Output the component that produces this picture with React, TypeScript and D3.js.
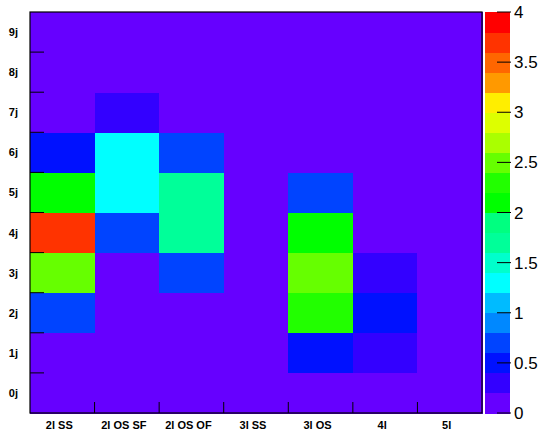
import React from "react";
import * as d3 from "d3";

const xCategories = ["2l SS", "2l OS SF", "2l OS OF", "3l SS", "3l OS", "4l", "5l"];
const yCategories = ["0j", "1j", "2j", "3j", "4j", "5j", "6j", "7j", "8j", "9j"];
// values[xIndex][yIndex] (0j..9j)
const val2lSS = [0, 0, 0.7, 2.5, 3.7, 2.1, 0.5, 0, 0, 0];
const val2lOSSF = [0, 0, 0, 0, 0.7, 1.3, 1.3, 0.3, 0, 0];
const val2lOSOF = [0, 0, 0, 0.7, 1.7, 1.7, 0.7, 0, 0, 0];
const val3lSS = [0, 0, 0, 0, 0, 0, 0, 0, 0, 0];
const val3lOS = [0, 0.5, 2.3, 2.5, 2.1, 0.7, 0, 0, 0, 0];
const val4l = [0, 0.3, 0.5, 0.3, 0, 0, 0, 0, 0, 0];
const val5l = [0, 0, 0, 0, 0, 0, 0, 0, 0, 0];
const seriesValues = [val2lSS, val2lOSSF, val2lOSOF, val3lSS, val3lOS, val4l, val5l];

const paletteColors = [
  "#6600ff", "#3300ff", "#0011ff", "#0044ff", "#0088ff",
  "#00bbff", "#00ffff", "#00ffcc", "#00ff99", "#00ff80",
  "#00ff00", "#22ff00", "#66ff00", "#aaff00", "#ddff00",
  "#ffee00", "#ff9900", "#ff6600", "#ff3300", "#ff0000",
];
const zTicks = [0, 0.5, 1, 1.5, 2, 2.5, 3, 3.5, 4];
const zMin = 0;
const zMax = 4;

export default function App() {
  const W = 543, H = 433;
  const left = 30, right = 482, top = 12, bottom = 413;
  const x = d3.scaleBand<string>().domain(xCategories).range([left, right]).padding(0);
  const y = d3.scaleBand<string>().domain(yCategories).range([bottom, top]).padding(0);
  const thresholds = d3.range(1, paletteColors.length).map((i) => zMin + (i * (zMax - zMin)) / paletteColors.length);
  const color = d3.scaleThreshold<number, string>().domain(thresholds).range(paletteColors);
  const zScale = d3.scaleLinear().domain([zMin, zMax]).range([bottom, top]);
  const cbLeft = 485, cbRight = 510;
  const levels = d3.range(paletteColors.length).map((i) => [zMin + (i * (zMax - zMin)) / paletteColors.length, zMin + ((i + 1) * (zMax - zMin)) / paletteColors.length]);

  return (
    <svg width={W} height={H} style={{ position: "absolute", left: 0, top: 0, background: "#fff" }}>
      <g>
        {seriesValues.map((col, xi) =>
          col.map((v, yi) => (
            <rect
              key={`${xi}-${yi}`}
              x={x(xCategories[xi])!}
              y={y(yCategories[yi])!}
              width={x.bandwidth() + 0.5}
              height={y.bandwidth() + 0.5}
              fill={color(v)}
              shapeRendering="crispEdges"
            />
          ))
        )}
      </g>
      {/* ticks */}
      {xCategories.map((c, i) =>
        i > 0 ? <line key={"xt" + i} x1={x(c)!} x2={x(c)!} y1={bottom} y2={bottom - 11} stroke="#000" strokeWidth={1} /> : null
      )}
      {yCategories.map((c, i) =>
        i > 0 ? <line key={"yt" + i} x1={left} x2={left + 14} y1={y(c)! + y.bandwidth()} y2={y(c)! + y.bandwidth()} stroke="#000" strokeWidth={1} /> : null
      )}
      <rect x={left} y={top} width={right - left} height={bottom - top} fill="none" stroke="#000" strokeWidth={1.2} />
      {xCategories.map((c) => (
        <text key={"xl" + c} x={x(c)! + x.bandwidth() / 2 - 3} y={429} textAnchor="middle" fontFamily="Liberation Sans, Arial, sans-serif" fontWeight="bold" fontSize={11}>
          {c}
        </text>
      ))}
      {yCategories.map((c) => (
        <text key={"yl" + c} x={18} y={y(c)! + y.bandwidth() / 2 + 4} textAnchor="end" fontFamily="Liberation Sans, Arial, sans-serif" fontWeight="bold" fontSize={11}>
          {c}
        </text>
      ))}
      {/* color bar */}
      {levels.map(([a, b], i) => (
        <rect key={"cb" + i} x={cbLeft} y={zScale(b)} width={cbRight - cbLeft} height={zScale(a) - zScale(b) + 0.5} fill={paletteColors[i]} shapeRendering="crispEdges" />
      ))}
      {zTicks.map((t) => (
        <g key={"zt" + t}>
          <line x1={cbRight + 1} x2={cbRight - 13} y1={zScale(t)} y2={zScale(t)} stroke="#000" strokeWidth={1} />
          <text x={514} y={zScale(t) + 6} fontFamily="Liberation Sans, Arial, sans-serif" fontSize={17}>
            {t}
          </text>
        </g>
      ))}
    </svg>
  );
}
